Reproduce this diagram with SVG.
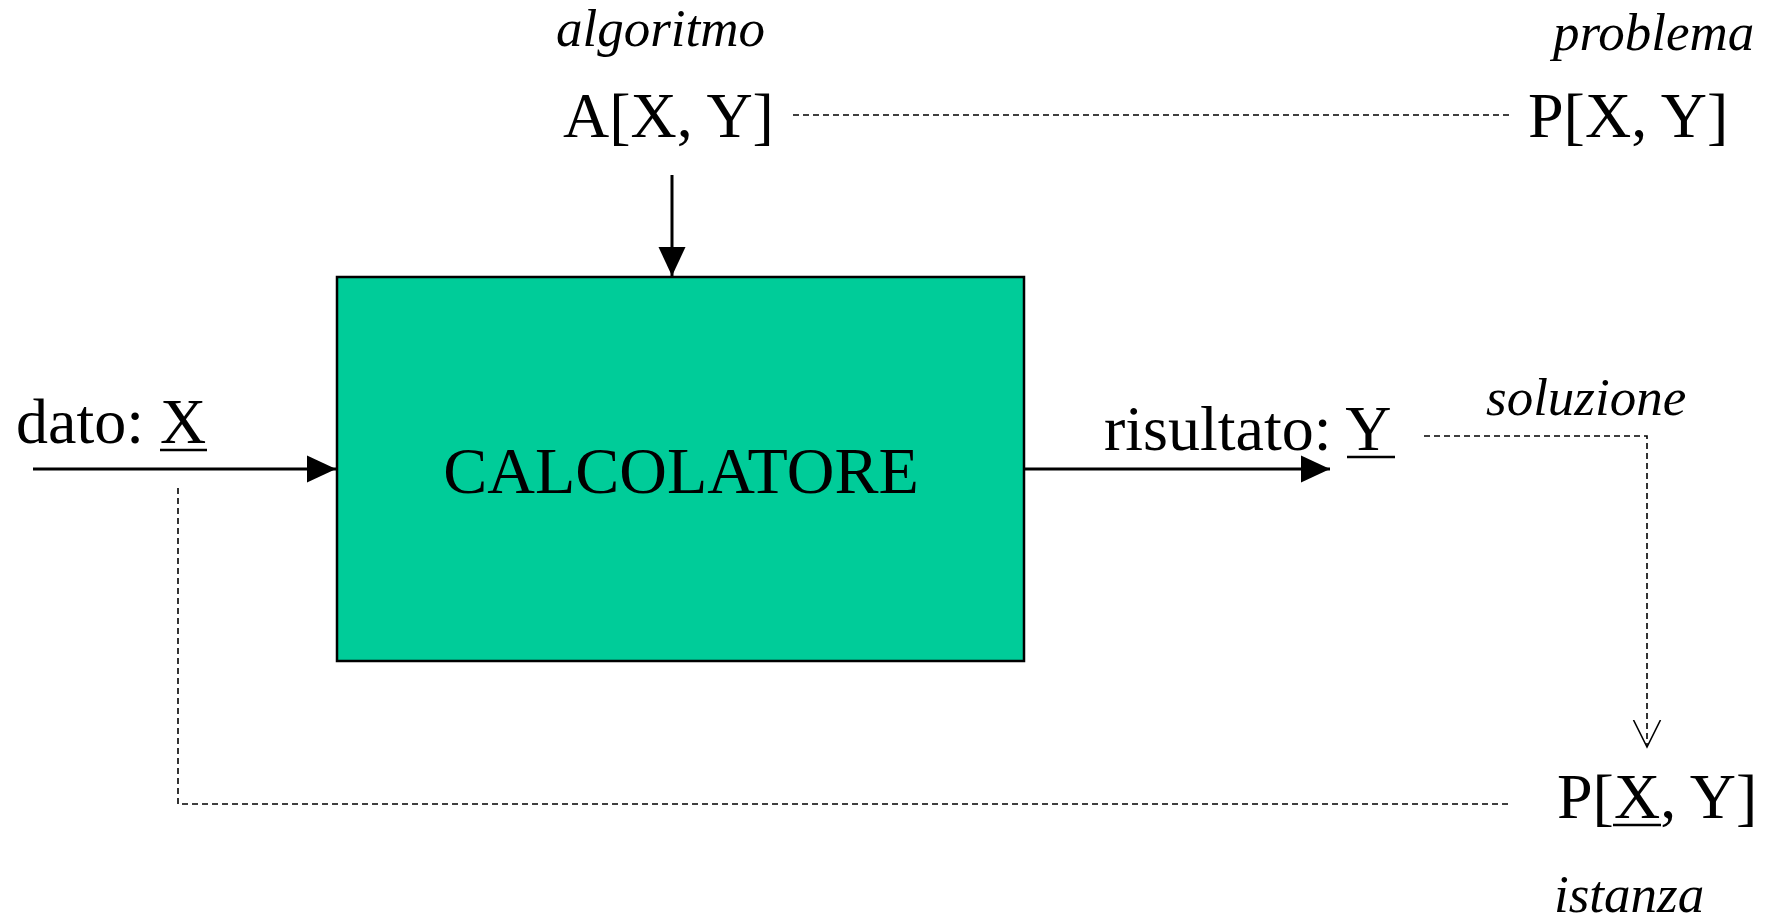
<svg xmlns="http://www.w3.org/2000/svg" width="1769" height="920" viewBox="0 0 1769 920">
  <defs>
    <style>
      .t { font-family: "Liberation Serif", "Times New Roman", serif; fill: #000; }
      .big { font-size: 64px; }
      .lab { font-size: 53px; font-style: italic; }
      .solid { stroke: #000; stroke-width: 3; fill: none; }
      .dash { stroke: #000; stroke-width: 1.6; stroke-dasharray: 6 4; fill: none; }
      .ul { stroke: #000; stroke-width: 2.5; }
    </style>
    <marker id="filled" markerUnits="userSpaceOnUse" markerWidth="30" markerHeight="30" viewBox="0 0 30 30" refX="29" refY="15" orient="auto">
      <path d="M0,1.5 L29,15 L0,28.5 Z" fill="#000"/>
    </marker>
    <marker id="open" markerUnits="userSpaceOnUse" markerWidth="30" markerHeight="30" viewBox="0 0 30 30" refX="27" refY="15" orient="auto">
      <path d="M0,1.5 L27,15 L0,28.5" fill="none" stroke="#000" stroke-width="1.6"/>
    </marker>
  </defs>
  <rect width="1769" height="920" fill="#fff"/>

  <!-- connectors -->
  <g id="connectors">
    <line class="solid" x1="672" y1="175" x2="672" y2="276" marker-end="url(#filled)"/>
    <line class="solid" x1="33" y1="469" x2="336" y2="469" marker-end="url(#filled)"/>
    <line class="solid" x1="1024" y1="469" x2="1330" y2="469" marker-end="url(#filled)"/>
    <line class="dash" x1="793" y1="115" x2="1512" y2="115"/>
    <polyline class="dash" points="1424,436 1647,436 1647,747" marker-end="url(#open)"/>
    <polyline class="dash" points="178,488 178,804 1512,804"/>
  </g>

  <!-- computer box -->
  <g id="calcolatore">
    <rect x="337" y="277" width="687" height="384" fill="#00CC99" stroke="#000" stroke-width="2.5"/>
    <text class="t" font-size="66" x="681" y="493" text-anchor="middle">CALCOLATORE</text>
  </g>

  <!-- algorithm -->
  <g id="algoritmo">
    <text class="t lab" x="556" y="46">algoritmo</text>
    <text class="t big" x="563" y="137">A[X, Y]</text>
  </g>

  <!-- problem -->
  <g id="problema">
    <text class="t lab" x="1553" y="50">problema</text>
    <text class="t big" x="1528" y="137">P[X, Y]</text>
  </g>

  <!-- input datum -->
  <g id="dato">
    <text class="t big" x="16" y="443">dato: X</text>
    <line class="ul" x1="160" y1="450" x2="207" y2="450"/>
  </g>

  <!-- result -->
  <g id="risultato">
    <text class="t big" x="1104" y="450">risultato: Y</text>
    <line class="ul" x1="1347" y1="457" x2="1395" y2="457"/>
  </g>

  <!-- solution label -->
  <g id="soluzione">
    <text class="t lab" x="1486" y="415">soluzione</text>
  </g>

  <!-- instance -->
  <g id="istanza">
    <text class="t big" x="1557" y="818">P[X, Y]</text>
    <line class="ul" x1="1613" y1="825" x2="1661" y2="825"/>
    <text class="t lab" x="1554" y="912">istanza</text>
  </g>
</svg>
